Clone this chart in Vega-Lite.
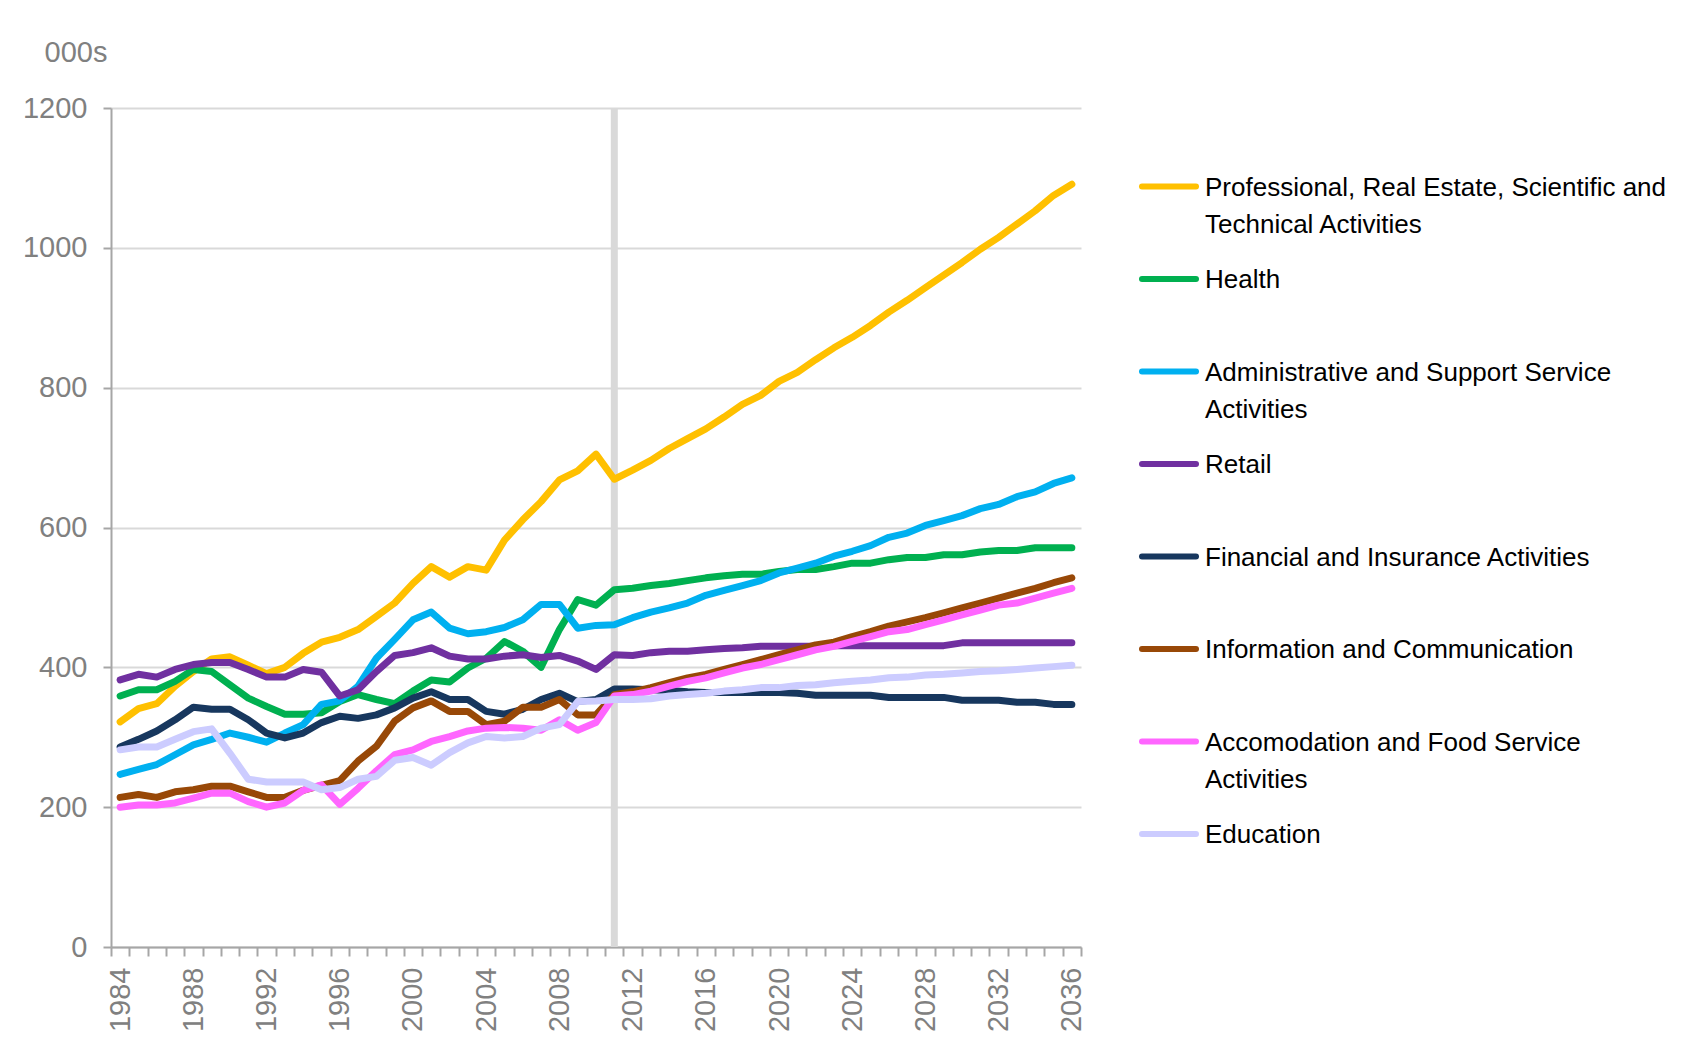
{
  "$schema": "https://vega.github.io/schema/vega-lite/v6.json",
  "width": 970,
  "height": 839,
  "autosize": {"type": "none"},
  "padding": {"left": 111, "top": 108, "right": 613, "bottom": 105},
  "background": "white",
  "config": {"view": {"stroke": null}, "font": "Liberation Sans"},
  "data": {"values": [
    {"year":1984,"Professional":322,"Health":359,"Administrative":247,"Retail":382,"Financial":286,"Information":214,"Accomodation":200,"Education":282},
    {"year":1985,"Professional":341,"Health":368,"Administrative":254,"Retail":390,"Financial":297,"Information":218,"Accomodation":203,"Education":286},
    {"year":1986,"Professional":348,"Health":368,"Administrative":261,"Retail":386,"Financial":309,"Information":214,"Accomodation":203,"Education":286},
    {"year":1987,"Professional":373,"Health":380,"Administrative":275,"Retail":397,"Financial":325,"Information":222,"Accomodation":206,"Education":297},
    {"year":1988,"Professional":394,"Health":397,"Administrative":289,"Retail":404,"Financial":343,"Information":225,"Accomodation":213,"Education":308},
    {"year":1989,"Professional":412,"Health":394,"Administrative":297,"Retail":407,"Financial":340,"Information":230,"Accomodation":220,"Education":312},
    {"year":1990,"Professional":415,"Health":375,"Administrative":306,"Retail":407,"Financial":340,"Information":230,"Accomodation":220,"Education":277},
    {"year":1991,"Professional":403,"Health":356,"Administrative":300,"Retail":397,"Financial":325,"Information":222,"Accomodation":208,"Education":240},
    {"year":1992,"Professional":391,"Health":344,"Administrative":293,"Retail":386,"Financial":306,"Information":214,"Accomodation":200,"Education":236},
    {"year":1993,"Professional":400,"Health":333,"Administrative":306,"Retail":386,"Financial":299,"Information":214,"Accomodation":206,"Education":236},
    {"year":1994,"Professional":420,"Health":333,"Administrative":318,"Retail":397,"Financial":306,"Information":224,"Accomodation":224,"Education":236},
    {"year":1995,"Professional":436,"Health":335,"Administrative":347,"Retail":393,"Financial":321,"Information":231,"Accomodation":232,"Education":225},
    {"year":1996,"Professional":443,"Health":351,"Administrative":352,"Retail":359,"Financial":330,"Information":238,"Accomodation":204,"Education":228},
    {"year":1997,"Professional":454,"Health":361,"Administrative":373,"Retail":368,"Financial":327,"Information":266,"Accomodation":227,"Education":240},
    {"year":1998,"Professional":473,"Health":354,"Administrative":413,"Retail":394,"Financial":332,"Information":287,"Accomodation":252,"Education":244},
    {"year":1999,"Professional":492,"Health":348,"Administrative":440,"Retail":417,"Financial":342,"Information":323,"Accomodation":275,"Education":267},
    {"year":2000,"Professional":520,"Health":366,"Administrative":468,"Retail":421,"Financial":356,"Information":342,"Accomodation":282,"Education":271},
    {"year":2001,"Professional":544,"Health":382,"Administrative":479,"Retail":428,"Financial":365,"Information":352,"Accomodation":294,"Education":260},
    {"year":2002,"Professional":529,"Health":379,"Administrative":456,"Retail":416,"Financial":354,"Information":337,"Accomodation":301,"Education":278},
    {"year":2003,"Professional":544,"Health":399,"Administrative":448,"Retail":412,"Financial":354,"Information":337,"Accomodation":309,"Education":292},
    {"year":2004,"Professional":539,"Health":413,"Administrative":451,"Retail":412,"Financial":337,"Information":318,"Accomodation":313,"Education":301},
    {"year":2005,"Professional":582,"Health":437,"Administrative":457,"Retail":416,"Financial":333,"Information":323,"Accomodation":314,"Education":299},
    {"year":2006,"Professional":611,"Health":423,"Administrative":468,"Retail":418,"Financial":340,"Information":343,"Accomodation":313,"Education":301},
    {"year":2007,"Professional":637,"Health":400,"Administrative":490,"Retail":414,"Financial":354,"Information":343,"Accomodation":310,"Education":313},
    {"year":2008,"Professional":668,"Health":454,"Administrative":490,"Retail":417,"Financial":363,"Information":354,"Accomodation":325,"Education":318},
    {"year":2009,"Professional":681,"Health":497,"Administrative":456,"Retail":409,"Financial":351,"Information":332,"Accomodation":310,"Education":351},
    {"year":2010,"Professional":705,"Health":489,"Administrative":460,"Retail":397,"Financial":354,"Information":332,"Accomodation":321,"Education":352},
    {"year":2011,"Professional":669,"Health":511,"Administrative":461,"Retail":418,"Financial":369,"Information":361,"Accomodation":359,"Education":354},
    {"year":2012,"Professional":682,"Health":513,"Administrative":471,"Retail":417,"Financial":369,"Information":365,"Accomodation":361,"Education":354},
    {"year":2013,"Professional":696,"Health":517,"Administrative":479,"Retail":421,"Financial":368,"Information":371,"Accomodation":366,"Education":355},
    {"year":2014,"Professional":713,"Health":520,"Administrative":485,"Retail":423,"Financial":367,"Information":378,"Accomodation":373,"Education":359},
    {"year":2015,"Professional":727,"Health":524,"Administrative":492,"Retail":423,"Financial":365,"Information":385,"Accomodation":380,"Education":361},
    {"year":2016,"Professional":741,"Health":528,"Administrative":503,"Retail":425,"Financial":364,"Information":390,"Accomodation":385,"Education":363},
    {"year":2017,"Professional":758,"Health":531,"Administrative":510,"Retail":427,"Financial":364,"Information":397,"Accomodation":392,"Education":366},
    {"year":2018,"Professional":776,"Health":533,"Administrative":517,"Retail":428,"Financial":364,"Information":404,"Accomodation":399,"Education":368},
    {"year":2019,"Professional":789,"Health":533,"Administrative":524,"Retail":430,"Financial":364,"Information":411,"Accomodation":404,"Education":371},
    {"year":2020,"Professional":809,"Health":537,"Administrative":535,"Retail":430,"Financial":364,"Information":418,"Accomodation":411,"Education":371},
    {"year":2021,"Professional":822,"Health":540,"Administrative":542,"Retail":430,"Financial":363,"Information":425,"Accomodation":418,"Education":374},
    {"year":2022,"Professional":840,"Health":540,"Administrative":549,"Retail":430,"Financial":360,"Information":432,"Accomodation":425,"Education":375},
    {"year":2023,"Professional":857,"Health":544,"Administrative":559,"Retail":431,"Financial":360,"Information":436,"Accomodation":430,"Education":378},
    {"year":2024,"Professional":872,"Health":549,"Administrative":566,"Retail":431,"Financial":360,"Information":444,"Accomodation":437,"Education":380},
    {"year":2025,"Professional":889,"Health":549,"Administrative":574,"Retail":431,"Financial":360,"Information":451,"Accomodation":444,"Education":382},
    {"year":2026,"Professional":908,"Health":554,"Administrative":586,"Retail":431,"Financial":357,"Information":459,"Accomodation":451,"Education":385},
    {"year":2027,"Professional":925,"Health":557,"Administrative":592,"Retail":431,"Financial":357,"Information":465,"Accomodation":454,"Education":386},
    {"year":2028,"Professional":943,"Health":557,"Administrative":603,"Retail":431,"Financial":357,"Information":471,"Accomodation":461,"Education":389},
    {"year":2029,"Professional":961,"Health":561,"Administrative":610,"Retail":431,"Financial":357,"Information":478,"Accomodation":468,"Education":390},
    {"year":2030,"Professional":979,"Health":561,"Administrative":617,"Retail":435,"Financial":353,"Information":485,"Accomodation":475,"Education":392},
    {"year":2031,"Professional":998,"Health":565,"Administrative":627,"Retail":435,"Financial":353,"Information":492,"Accomodation":482,"Education":394},
    {"year":2032,"Professional":1015,"Health":567,"Administrative":633,"Retail":435,"Financial":353,"Information":499,"Accomodation":489,"Education":395},
    {"year":2033,"Professional":1034,"Health":567,"Administrative":644,"Retail":435,"Financial":350,"Information":506,"Accomodation":492,"Education":397},
    {"year":2034,"Professional":1053,"Health":571,"Administrative":651,"Retail":435,"Financial":350,"Information":513,"Accomodation":499,"Education":399},
    {"year":2035,"Professional":1075,"Health":571,"Administrative":663,"Retail":435,"Financial":347,"Information":521,"Accomodation":506,"Education":401},
    {"year":2036,"Professional":1091,"Health":571,"Administrative":671,"Retail":435,"Financial":347,"Information":528,"Accomodation":513,"Education":403}
  ]},
  "layer": [
    {
      "data": {"values": [{"marker": 2011}]},
      "mark": {"type": "rule", "color": "#d9d9d9", "strokeWidth": 7},
      "encoding": {"x": {"field": "marker", "type": "ordinal"}}
    },
    {
      "transform": [{"fold": ["Professional","Health","Administrative","Retail","Financial","Information","Accomodation","Education"], "as": ["sector","value"]}],
      "mark": {"type": "line", "strokeWidth": 7, "strokeCap": "round", "strokeJoin": "round"},
      "encoding": {
        "x": {
          "field": "year", "type": "ordinal",
          "scale": {"type": "band", "paddingInner": 0, "paddingOuter": 0,
            "domain": [1984,1985,1986,1987,1988,1989,1990,1991,1992,1993,1994,1995,1996,1997,1998,1999,2000,2001,2002,2003,2004,2005,2006,2007,2008,2009,2010,2011,2012,2013,2014,2015,2016,2017,2018,2019,2020,2021,2022,2023,2024,2025,2026,2027,2028,2029,2030,2031,2032,2033,2034,2035,2036]},
          "axis": {
            "title": null, "grid": false, "tickBand": "extent",
            "labelAngle": 270, "labelAlign": "right", "labelBaseline": "middle",
            "labelExpr": "(toNumber(datum.value) - 1984) % 4 == 0 ? datum.value : ''",
            "labelOverlap": false, "labelFontSize": 29, "labelColor": "#808080", "labelPadding": 11,
            "domainColor": "#a6a6a6", "domainWidth": 2, "tickColor": "#a6a6a6", "tickWidth": 2, "tickSize": 9
          }
        },
        "y": {
          "field": "value", "type": "quantitative",
          "scale": {"domain": [0, 1200], "nice": false},
          "axis": {
            "title": "000s", "titleAngle": 0, "titleX": -67, "titleY": -56, "titleAlign": "left", "titleBaseline": "middle",
            "titleFontWeight": "normal", "titleFontSize": 29, "titleColor": "#808080",
            "values": [0,200,400,600,800,1000,1200], "format": "d",
            "labelFontSize": 29, "labelColor": "#808080", "labelPadding": 16,
            "domainColor": "#a6a6a6", "domainWidth": 2, "tickColor": "#a6a6a6", "tickWidth": 2, "tickSize": 8,
            "gridColor": "#d9d9d9", "gridWidth": 2
          }
        },
        "color": {
          "field": "sector", "type": "nominal",
          "scale": {
            "domain": ["Professional","Health","Administrative","Retail","Financial","Information","Accomodation","Education"],
            "range": ["#FFC000","#00B050","#00B0F0","#7030A0","#17375E","#984807","#FF66FF","#CCCCFF"]
          },
          "legend": {
            "title": null, "orient": "none", "legendX": 1028, "legendY": 48.5, "padding": 0,
            "symbolType": "stroke", "symbolSize": 2916, "symbolStrokeWidth": 6,
            "labelFont": "Liberation Sans",
            "labelFontSize": 26, "labelColor": "black", "labelLimit": 700, "labelOffset": 6, "labelBaseline": "middle",
            "rowPadding": 11.5,
            "labelExpr": "datum.label == 'Professional' ? ['Professional, Real Estate, Scientific and', 'Technical Activities'] : datum.label == 'Administrative' ? ['Administrative and Support Service', 'Activities'] : datum.label == 'Accomodation' ? ['Accomodation and Food Service', 'Activities'] : datum.label == 'Financial' ? ['Financial and Insurance Activities', ''] : datum.label == 'Information' ? ['Information and Communication', ''] : [datum.label, '']",
            "encode": {
              "labels": {"update": {"dy": {"value": 1}, "lineHeight": {"value": 37}}},
              "symbols": {"update": {"strokeCap": {"value": "round"}}}
            }
          }
        }
      }
    }
  ]
}
